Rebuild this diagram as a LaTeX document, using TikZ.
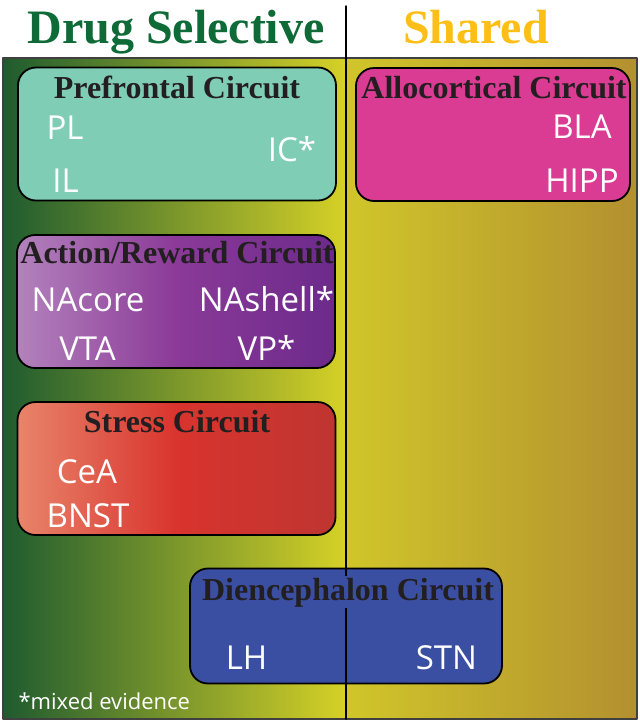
\documentclass[tikz,border=0pt]{standalone}
\usepackage{fontspec}
\setmainfont{Liberation Serif}
\newfontfamily\regionfont{Open Sans}
\definecolor{panGreen}{HTML}{1F5B2F}
\definecolor{panYellow}{HTML}{D6D127}
\definecolor{panYellowTwo}{HTML}{D0C62A}
\definecolor{panBrown}{HTML}{B3902F}
\definecolor{headGreen}{HTML}{0E6A36}
\definecolor{headGold}{HTML}{FDBF17}
\definecolor{circInk}{HTML}{231F20}
\definecolor{pfcTeal}{HTML}{80CDB6}
\definecolor{alloPink}{HTML}{DA3B93}
\definecolor{actLilac}{HTML}{B382BC}
\definecolor{actPurple}{HTML}{8B3A98}
\definecolor{actPurpleTwo}{HTML}{6C2A8B}
\definecolor{stressSalmon}{HTML}{E8846A}
\definecolor{stressRed}{HTML}{D9342E}
\definecolor{stressRedTwo}{HTML}{BE3530}
\definecolor{dienBlue}{HTML}{3A4FA2}

\begin{document}
\begin{tikzpicture}[x=1pt,y=-1pt,line cap=round,line join=round]
\useasboundingbox (0,0) rectangle (640,724);
\path[fill=white] (0,0) rectangle (640,724);
\tikzset{circbox/.style={draw=black,line width=1.8pt,rounded corners=18pt,inner sep=0pt},
  circtitle/.style={anchor=base,text=circInk,font=\fontsize{32}{32}\selectfont\bfseries},
  region/.style={anchor=base,text=white,font=\regionfont\fontsize{33}{33}\selectfont},
  headline/.style={anchor=base,font=\fontsize{48}{48}\selectfont\bfseries}}
% two halves of the panel
\path[left color=panGreen,right color=panYellow] (3,58) rectangle (346,719);
\path[left color=panYellowTwo,right color=panBrown] (346,58) rectangle (637,719);
\draw[black!75,line width=1.4pt] (3,58) rectangle (637,719);
\node[headline,text=headGreen] (hdDrug) at (176,43) {Drug Selective};
\node[headline,text=headGold] (hdShared) at (476,43) {Shared};
% circuits
\node[circbox,fill=pfcTeal,minimum width=318pt,minimum height=133pt] (pfc) at (177,134) {};
\node[circtitle] (pfcT) at (177,98) {Prefrontal Circuit};
\node[region] (pl) at (65,139) {PL};
\node[region] (il) at (65.5,192) {IL};
\node[region] (ic) at (292,161) {IC*};
\node[circbox,fill=alloPink,minimum width=274pt,minimum height=133pt] (allo) at (493,134.5) {};
\node[circtitle] (alloT) at (494,98) {Allocortical Circuit};
\node[region] (bla) at (582,138) {BLA};
\node[region] (hipp) at (582,192) {HIPP};
\node[circbox,left color=actLilac,right color=actPurpleTwo,middle color=actPurple,minimum width=318pt,minimum height=133pt] (act) at (176,301.5) {};
\node[circtitle] (actT) at (177,263) {Action/Reward Circuit};
\node[region] (nacore) at (88,311) {NAcore};
\node[region] (nashell) at (266.5,311) {NAshell*};
\node[region] (vta) at (87.5,360) {VTA};
\node[region] (vp) at (266.5,360) {VP*};
\node[circbox,left color=stressSalmon,right color=stressRedTwo,middle color=stressRed,minimum width=318pt,minimum height=133pt] (stress) at (176.5,468.5) {};
\node[circtitle] (stressT) at (177,432) {Stress Circuit};
\node[region] (cea) at (87,483) {CeA};
\node[region] (bnst) at (88,527) {BNST};
\node[circbox,fill=dienBlue,minimum width=312pt,minimum height=115pt] (dien) at (346,626) {};
% divider between the two halves
\coordinate (divTop) at (346,6);
\coordinate (divBot) at (346,719);
\draw[black,line width=1.5pt] (divTop) -- (divBot);
\node[circtitle,fill=dienBlue,inner sep=1.5pt] (dienT) at (348,600) {Diencephalon Circuit};
\node[region] (lh) at (246.5,669) {LH};
\node[region] (stn) at (446.5,669) {STN};
\node[anchor=base west,text=white,font=\regionfont\fontsize{22}{22}\selectfont] (note) at (15,709) {*mixed evidence};
\end{tikzpicture}
\end{document}
